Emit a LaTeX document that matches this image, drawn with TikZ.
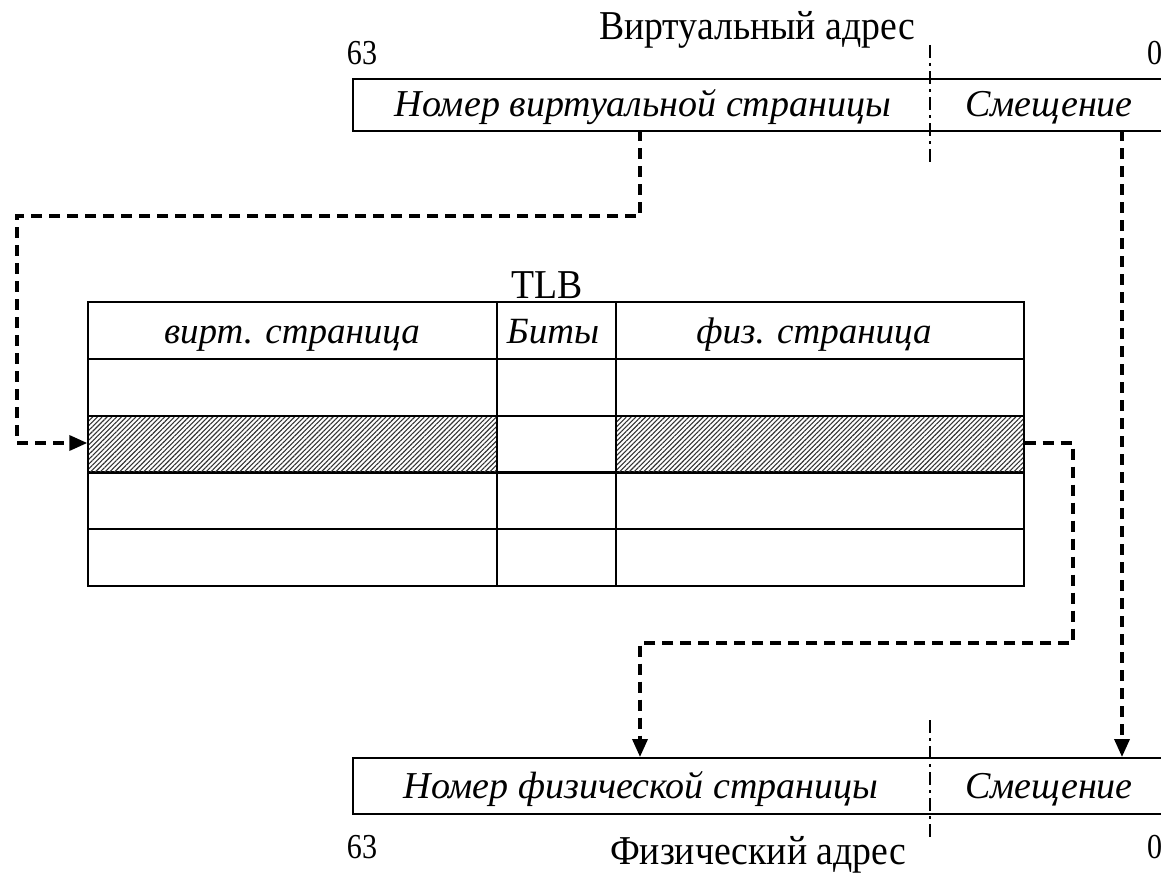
\documentclass[tikz,border=0pt]{standalone}
\usepackage{fontspec}
\setmainfont{Liberation Serif}
\newfontfamily\titlefont{Liberation Serif}[FakeStretch=0.92]
\newfontfamily\numfont{Liberation Serif}[FakeStretch=0.86]
\usetikzlibrary{patterns.meta,arrows.meta}
\begin{document}
\begin{tikzpicture}[x=1pt,y=-1pt,
  frame/.style={draw,line width=2pt},
  cell/.style={draw,line width=1.8pt},
  hatch/.style={pattern={Lines[angle=45,distance=3.4pt,line width=1.1pt]},pattern color=black!80},
  conn/.style={line width=3.5pt,dash pattern=on 11pt off 7pt},
  arr/.style={conn,-{Triangle[length=18pt,width=15pt]}},
  divider/.style={line width=2.5pt,dash pattern=on 13pt off 5pt on 3pt off 5pt},
  lbl/.style={font=\fontsize{41}{44}\titlefont,inner sep=0pt,anchor=base},
  ital/.style={font=\fontsize{38}{42}\selectfont\itshape,inner sep=0pt,anchor=base},
  hdr/.style={font=\fontsize{37}{40}\selectfont\itshape,inner sep=0pt,anchor=base},
  num/.style={font=\fontsize{35}{38}\numfont,inner sep=0pt,anchor=base},
]
\useasboundingbox (0,0) rectangle (1161,875);
\clip (0,0) rectangle (1161,875);

% ---- virtual address ----
\node[lbl] (vtitle) at (757,40) {Виртуальный адрес};
\node[num] (v63) at (362,65) {63};
\node[num,anchor=base west] (v0) at (1147,65) {0};
\node[frame,anchor=north west,minimum width=840pt,minimum height=52pt,inner sep=0pt] (vaddr) at (352,78) {};
\node[ital] (vpntext) at (643,116) {Номер виртуальной страницы};
\node[ital] (vofftext) at (1049,116) {Смещение};
\draw[divider] (930,45) -- (930,162);
\coordinate (vpn) at (640,130);
\coordinate (voff) at (1122,130);

% ---- TLB ----
\node[lbl] (tlbtitle) at (547,298) {TLB};
\foreach \y in {302,359,416,472,529}{
  \draw[cell] (88,\y) rectangle (497,\y+57);
  \draw[cell] (497,\y) rectangle (616,\y+57);
  \draw[cell] (616,\y) rectangle (1024,\y+57);
}
\fill[hatch] (89,417) rectangle (496,471);
\fill[hatch] (617,417) rectangle (1023,471);
\node[hdr] (h1) at (292,343) {вирт. страница};
\node[hdr] (h2) at (553,343) {Биты};
\node[hdr] (h3) at (814,343) {физ. страница};
\node[inner sep=0pt] (rowin) at (88,443) {};
\node[inner sep=0pt] (rowout) at (1024,443) {};

% ---- physical address ----
\node[frame,anchor=north west,minimum width=840pt,minimum height=56pt,inner sep=0pt] (paddr) at (352,757) {};
\node[ital] (ppntext) at (641,798) {Номер физической страницы};
\node[ital] (pofftext) at (1049,798) {Смещение};
\draw[divider] (930,720) -- (930,840);
\node[num] (p63) at (362,858) {63};
\node[num,anchor=base west] (p0) at (1147,858) {0};
\node[lbl] (ptitle) at (758,864) {Физический адрес};
\coordinate (ppn) at (640,757);
\coordinate (poff) at (1122,757);

% ---- connectors ----
\draw[arr] (vpn) |- (17,216) |- (rowin);
\draw[arr] (rowout) -| (1073,643) -| (ppn);
\draw[arr] (voff) -- (poff);
\end{tikzpicture}
\end{document}
